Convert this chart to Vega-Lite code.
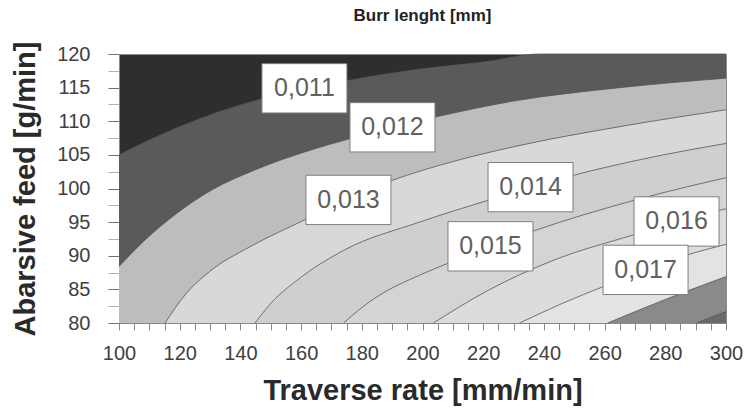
{
  "$schema": "https://vega.github.io/schema/vega-lite/v6.json",
  "width": 607,
  "height": 269,
  "autosize": {"type": "none"},
  "padding": {"left": 119, "top": 54, "right": 19, "bottom": 91},
  "background": "white",
  "config": {"view": {"fill": "#2e2e2e", "stroke": "#8a8a8a", "strokeWidth": 1}},
  "title": {"text": "Burr lenght [mm]", "fontSize": 17, "font": "Liberation Sans", "fontWeight": "bold", "color": "#222222", "anchor": "middle", "offset": 16},
  "datasets": {
    "curves": [
      {"curve": "c1", "x": 100, "y": 105},
      {"curve": "c1", "x": 110, "y": 107.2},
      {"curve": "c1", "x": 119, "y": 109},
      {"curve": "c1", "x": 133, "y": 111.4},
      {"curve": "c1", "x": 146, "y": 113.2},
      {"curve": "c1", "x": 160, "y": 114.7},
      {"curve": "c1", "x": 176, "y": 116.1},
      {"curve": "c1", "x": 200, "y": 117.8},
      {"curve": "c1", "x": 220, "y": 118.8},
      {"curve": "c1", "x": 239, "y": 120},
      {"curve": "c1", "x": 300, "y": 120},
      {"curve": "c2", "x": 100, "y": 88.4},
      {"curve": "c2", "x": 108, "y": 92.1},
      {"curve": "c2", "x": 119, "y": 96.3},
      {"curve": "c2", "x": 131, "y": 99.9},
      {"curve": "c2", "x": 145, "y": 102.8},
      {"curve": "c2", "x": 163, "y": 105.7},
      {"curve": "c2", "x": 176, "y": 107.4},
      {"curve": "c2", "x": 204, "y": 110.6},
      {"curve": "c2", "x": 230, "y": 113},
      {"curve": "c2", "x": 265, "y": 115},
      {"curve": "c2", "x": 300, "y": 116.4},
      {"curve": "c3", "x": 115.2, "y": 80},
      {"curve": "c3", "x": 122, "y": 84.3},
      {"curve": "c3", "x": 130, "y": 87.7},
      {"curve": "c3", "x": 143, "y": 91.3},
      {"curve": "c3", "x": 161, "y": 95.3},
      {"curve": "c3", "x": 175, "y": 98.4},
      {"curve": "c3", "x": 190, "y": 101.2},
      {"curve": "c3", "x": 210, "y": 104},
      {"curve": "c3", "x": 230, "y": 106.2},
      {"curve": "c3", "x": 265, "y": 109.2},
      {"curve": "c3", "x": 300, "y": 111.7},
      {"curve": "c4", "x": 144.8, "y": 80},
      {"curve": "c4", "x": 151, "y": 83.4},
      {"curve": "c4", "x": 158.5, "y": 86.3},
      {"curve": "c4", "x": 174, "y": 90.8},
      {"curve": "c4", "x": 199, "y": 95},
      {"curve": "c4", "x": 222, "y": 98.3},
      {"curve": "c4", "x": 250, "y": 102},
      {"curve": "c4", "x": 275, "y": 104.6},
      {"curve": "c4", "x": 300, "y": 106.7},
      {"curve": "c5", "x": 174, "y": 80},
      {"curve": "c5", "x": 180, "y": 82.3},
      {"curve": "c5", "x": 185, "y": 83.9},
      {"curve": "c5", "x": 199, "y": 87.1},
      {"curve": "c5", "x": 208, "y": 88.8},
      {"curve": "c5", "x": 236, "y": 93.6},
      {"curve": "c5", "x": 271, "y": 98.4},
      {"curve": "c5", "x": 300, "y": 101.6},
      {"curve": "c6", "x": 203.6, "y": 80},
      {"curve": "c6", "x": 221, "y": 84.7},
      {"curve": "c6", "x": 243, "y": 89.3},
      {"curve": "c6", "x": 269.5, "y": 93.1},
      {"curve": "c6", "x": 300, "y": 97},
      {"curve": "c7", "x": 232, "y": 80},
      {"curve": "c7", "x": 246, "y": 82.9},
      {"curve": "c7", "x": 260, "y": 85.5},
      {"curve": "c7", "x": 280, "y": 89.1},
      {"curve": "c7", "x": 300, "y": 91.7},
      {"curve": "c8", "x": 261, "y": 80},
      {"curve": "c8", "x": 280, "y": 83.5},
      {"curve": "c8", "x": 300, "y": 86.9},
      {"curve": "c9", "x": 290.3, "y": 80},
      {"curve": "c9", "x": 300, "y": 81.7}
    ],
    "labels": [
      {"label": "0,011", "x": 161.1, "y": 114.9},
      {"label": "0,012", "x": 190.1, "y": 109.1},
      {"label": "0,013", "x": 175.6, "y": 98.3},
      {"label": "0,014", "x": 235.6, "y": 100.2},
      {"label": "0,015", "x": 222.4, "y": 91.4},
      {"label": "0,016", "x": 283.7, "y": 95.1},
      {"label": "0,017", "x": 273.5, "y": 87.9}
    ]
  },
  "encoding": {
    "x": {
      "field": "x", "type": "quantitative",
      "scale": {"domain": [100, 300], "nice": false, "zero": false},
      "axis": {
        "values": [100,105,110,115,120,125,130,135,140,145,150,155,160,165,170,175,180,185,190,195,200,205,210,215,220,225,230,235,240,245,250,255,260,265,270,275,280,285,290,295,300],
        "labelExpr": "datum.value % 20 === 0 ? datum.label : ''",
        "labelFlush": false, "labelOverlap": false, "grid": false,
        "domainColor": "#888888", "tickColor": "#888888", "tickSize": 7,
        "labelFont": "Liberation Sans", "labelFontSize": 20, "labelColor": "#404040", "labelPadding": 13,
        "title": "Traverse rate [mm/min]", "titleFont": "Liberation Sans", "titleFontSize": 29, "titleFontWeight": "bold", "titleColor": "#2a2a2a", "titlePadding": 13
      }
    },
    "y": {
      "field": "y", "type": "quantitative",
      "scale": {"domain": [80, 120], "nice": false, "zero": false},
      "axis": {
        "values": [80,82.5,85,87.5,90,92.5,95,97.5,100,102.5,105,107.5,110,112.5,115,117.5,120],
        "labelExpr": "datum.value % 5 === 0 ? datum.label : ''",
        "labelFlush": false, "labelOverlap": false, "grid": false,
        "domainColor": "#888888", "tickSize": 11,
        "tickColor": {"condition": {"test": "datum.value % 5 === 0", "value": "#707070"}, "value": "#b0b0b0"},
        "labelFont": "Liberation Sans", "labelFontSize": 20, "labelColor": "#404040", "labelPadding": 18,
        "title": "Abarsive feed [g/min]", "titleFont": "Liberation Sans", "titleFontSize": 29, "titleFontWeight": "bold", "titleColor": "#2a2a2a", "titlePadding": 16
      }
    }
  },
  "layer": [
    {
      "data": {"name": "curves"},
      "mark": {"type": "area", "interpolate": "monotone"},
      "encoding": {
        "y": {"field": "y", "type": "quantitative", "stack": null},
        "y2": {"datum": 80},
        "color": {
          "field": "curve", "type": "nominal", "legend": null,
          "scale": {"domain": ["c1","c2","c3","c4","c5","c6","c7","c8","c9"],
                    "range": ["#5a5a5a","#bdbdbd","#d8d8d8","#cfcfcf","#d4d4d4","#dcdcdc","#e3e3e3","#8a8a8a","#6a6a6a"]}
        }
      }
    },
    {
      "data": {"name": "curves"},
      "mark": {"type": "line", "interpolate": "monotone", "color": "#555555", "strokeWidth": 0.8},
      "encoding": {"detail": {"field": "curve", "type": "nominal"}}
    },
    {
      "data": {"name": "labels"},
      "mark": {"type": "point", "shape": "M-1,-0.58L1,-0.58L1,0.58L-1,0.58Z", "size": 7225, "filled": true, "fill": "white", "stroke": "#7f7f7f", "strokeWidth": 1, "opacity": 1}
    },
    {
      "data": {"name": "labels"},
      "mark": {"type": "text", "font": "Liberation Sans", "fontSize": 25, "color": "#606060"},
      "encoding": {"text": {"field": "label", "type": "nominal"}}
    }
  ]
}
